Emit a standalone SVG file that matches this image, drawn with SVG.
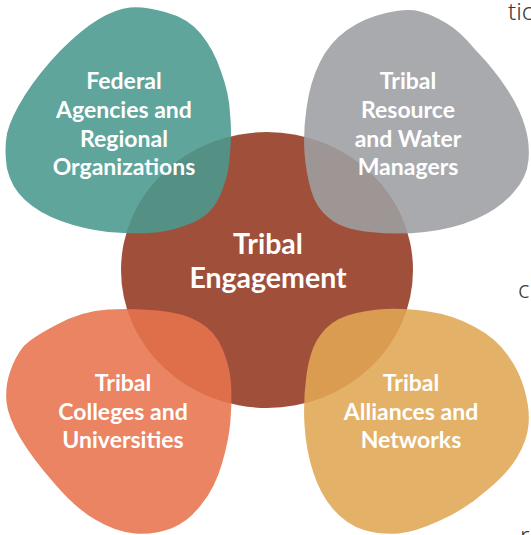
<svg xmlns="http://www.w3.org/2000/svg" width="531" height="535" viewBox="0 0 531 535">
<style>
.blob{opacity:0.88}
.lbl{font-family:Lato,"Source Sans Pro","Noto Sans",sans-serif;font-weight:700;font-size:23px;fill:#ffffff;text-anchor:middle}
.center{font-size:28.5px}
.edge{font-family:"Noto Sans","Open Sans",sans-serif;font-weight:300;font-size:24px;fill:#3a3a3a}
</style>
<rect width="531" height="535" fill="#ffffff"/>
<g id="edge-text">
<text class="edge" x="508" y="20">tic</text>
<text class="edge" x="518" y="298">c</text>
<text class="edge" x="520" y="544">r</text>
</g>
<g id="tribal-engagement">
<ellipse cx="267" cy="270" rx="146" ry="138" fill="#A0503A"/>
<text class="lbl center" x="268" y="254">Tribal</text>
<text class="lbl center" x="268" y="288">Engagement</text>
</g>
<g id="federal-agencies">
<path class="blob" fill="#49998D" d="M165,12 Q188,18 201,34 Q214,50 221,71.5 Q229,93 230,113 Q232,133 230,153 Q229,173 223,188 Q218,203 209,212 Q200,221 184,226 Q167,232 150,233 Q133,234 108,232 Q83,229 61,221 Q39,213 25,200 Q11,187 7,168.5 Q4,150 7,133.5 Q11,117 25,95 Q39,73 60,51 Q82,29 99,19 Q116,9 130,7.5 Q144,6 165,12 Z"/>
<text class="lbl" x="124" y="89">Federal</text>
<text class="lbl" x="124" y="118">Agencies and</text>
<text class="lbl" x="124" y="147">Regional</text>
<text class="lbl" x="124" y="175">Organizations</text>
</g>
<g id="resource-water-managers">
<path class="blob" fill="#9D9EA2" d="M420,11.5 Q433,15 446,23 Q460,31 476,50.5 Q494,69 507,89 Q520,109 525,126.5 Q530,143 528.5,160 Q527,178 513,193 Q499,209 476,219 Q453,229 425,232 Q398,235 370,232 Q341,229 329,218 Q316,208 311,190 Q306,173 304.5,153 Q303,133 306.5,108 Q310,82 320,62 Q330,42 347,30 Q364,18 386,13 Q408,8 420,11.5 Z"/>
<text class="lbl" x="408" y="89">Tribal</text>
<text class="lbl" x="408" y="118">Resource</text>
<text class="lbl" x="408" y="147">and Water</text>
<text class="lbl" x="408" y="175">Managers</text>
</g>
<g id="colleges-universities">
<path class="blob" fill="#E7734D" d="M158,310.5 Q184,313 199,322 Q215,331 222.5,349 Q230,367 231,383.5 Q232,400 230.5,420 Q229,440 222,463.5 Q215,488 201,505 Q188,522 171,528.5 Q153,535 135,533.5 Q116,532 96,520 Q76,509 54,483 Q32,458 20,437.5 Q8,417 6.5,402 Q5,387 10,372 Q15,357 23,347 Q31,338 57,324.5 Q82,311 108,309.5 Q133,308 158,310.5 Z"/>
<text class="lbl" x="123" y="391">Tribal</text>
<text class="lbl" x="123" y="420">Colleges and</text>
<text class="lbl" x="123" y="448">Universities</text>
</g>
<g id="alliances-networks">
<path class="blob" fill="#E0A653" d="M428.5,311.5 Q453,315 474,326.5 Q496,338 508,355.5 Q520,372 525,391.5 Q530,410 528.5,425 Q527,441 517,457.5 Q507,474 486,491 Q466,509 440,520.5 Q415,532 398.5,533.5 Q382,535 364,530 Q347,525 333,509 Q320,494 313,471.5 Q306,450 304.5,425 Q303,400 306.5,375 Q310,349 320,335.5 Q330,321 347.5,315.5 Q365,310 385,309 Q405,308 428.5,311.5 Z"/>
<text class="lbl" x="411" y="391">Tribal</text>
<text class="lbl" x="411" y="420">Alliances and</text>
<text class="lbl" x="411" y="448">Networks</text>
</g>
</svg>
